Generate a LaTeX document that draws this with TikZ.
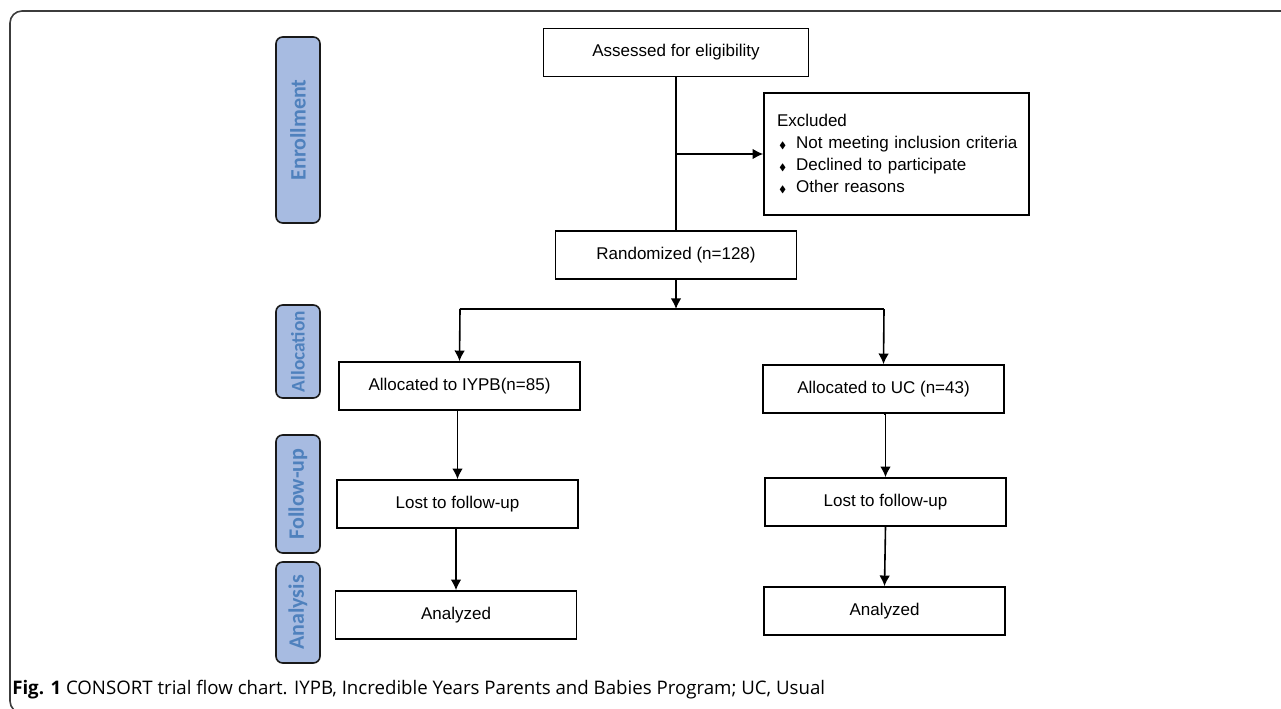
\documentclass[tikz,border=0pt]{standalone}
\usepackage{amssymb}
\usepackage{fontspec}
\setmainfont{Liberation Sans}
\newfontfamily\tabfont{Carlito}
\newfontfamily\capfont{Open Sans}
\usepackage{xcolor}
\usepackage{tikz}
\usetikzlibrary{positioning,arrows.meta}

\definecolor{tabfill}{RGB}{167,187,225}
\definecolor{tabtext}{RGB}{79,129,189}
\definecolor{framegray}{RGB}{60,60,60}
\newcommand{\exbul}{\hspace*{1.5pt}{\scriptsize$\blacklozenge$}\hspace*{7.5pt}}

\tikzset{
  flowbox/.style={draw,line width=1.2pt,inner sep=0pt,minimum height=36pt,font=\fontsize{12.75}{16.5}\selectfont},
  stagetab/.style={draw=black!90,line width=1.2pt,fill=tabfill,rounded corners=5pt,rotate=90,minimum height=33pt,inner sep=0pt,text=tabtext,font=\tabfont\bfseries\fontsize{16.5}{18}\selectfont},
  flowarrow/.style={-{Latex[length=8pt,width=8pt]},line width=1.2pt},
}

\begin{document}
\begin{tikzpicture}[x=0.75pt,y=-0.75pt]
 	\useasboundingbox (0,0) rectangle (1281,709);
 	\begin{scope}
 	\clip (0,0) rectangle (1281,709);
 	\draw[framegray,line width=1.2pt,rounded corners=9pt] (10,11) rectangle (1320,713);
 	\end{scope}
 	% stage tabs
 	\node[stagetab,minimum width=139.5pt] (enrol) at (298,130) {Enrollment};
 	\node[stagetab,minimum width=69.75pt,font=\tabfont\bfseries\fontsize{14.5}{16}\selectfont] (alloc) at (298,351.5) {Allocation};
 	\node[stagetab,minimum width=88.5pt] (follow) at (298,494) {Follow-up};
 	\node[stagetab,minimum width=75.75pt] (analys) at (298,612.5) {Analysis};
 	% boxes
 	\node[flowbox,minimum width=198.75pt] (assess) at (676,52.5) {Assessed for eligibility};
 	\node[flowbox,minimum width=198.75pt,minimum height=91.5pt,text width=179.25pt,inner xsep=9.75pt,align=left] (excl) at (896.5,154) {Excluded\\
 		\mbox{\exbul Not meeting inclusion criteria}\\
 		\mbox{\exbul Declined to participate}\\
 		\mbox{\exbul Other reasons}\\[2pt]};
 	\node[flowbox,minimum width=180.75pt] (rand) at (676,255) {Randomized (n=128)};
 	\node[flowbox,minimum width=180.75pt] (iypb) at (459.5,386) {Allocated to IYPB(n=85)};
 	\node[flowbox,minimum width=180.75pt] (uc) at (883.5,389) {Allocated to UC (n=43)};
 	\node[flowbox,minimum width=180.75pt] (lostiypb) at (457.5,504) {Lost to follow-up};
 	\node[flowbox,minimum width=180.75pt] (lostuc) at (885.5,502) {Lost to follow-up};
 	\node[flowbox,minimum width=180.75pt] (anaiypb) at (456,615) {Analyzed};
 	\node[flowbox,minimum width=180.75pt] (anauc) at (884.5,611) {Analyzed};
 	% connectors
 	\coordinate (exsplit) at (assess.south |- excl.west);
 	\coordinate (split) at (676,309);
 	\coordinate (splitl) at (460,309);
 	\coordinate (splitr) at (884,309);
 	\draw[line width=1.2pt] (assess.south) -- (rand.north);
 	\draw[flowarrow] (exsplit) -- (excl.west);
 	\draw[flowarrow] (rand.south) -- (split);
 	\draw[line width=1.2pt] (splitl) -- (splitr);
 	\draw[flowarrow] (splitl) -- (iypb.north);
 	\draw[flowarrow] (splitr) -- (uc.north);
 	\draw[flowarrow] (lostiypb.north |- iypb.south) -- (lostiypb.north);
 	\draw[flowarrow] (anaiypb.north |- lostiypb.south) -- (anaiypb.north);
 	\draw[flowarrow] (uc.south) -- (lostuc.north |- uc.south) -- (lostuc.north);
 	\draw[flowarrow] (lostuc.south) -- (anauc.north);
 	% caption
 	\node[anchor=base west,inner sep=0pt,font=\capfont\fontsize{14}{16}\selectfont] (caption) at (12,694) {\textbf{Fig. 1} CONSORT trial flow chart. IYPB, Incredible Years Parents and Babies Program; UC, Usual};
\end{tikzpicture}
\end{document}
